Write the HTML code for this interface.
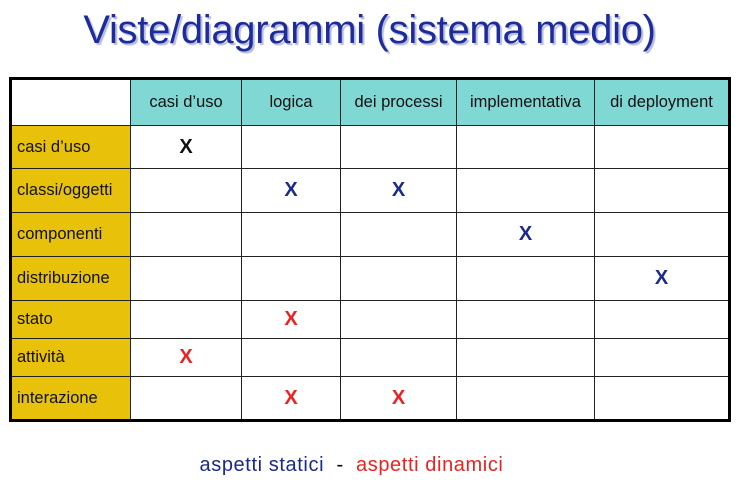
<!DOCTYPE html>
<html><head><meta charset="utf-8"><style>
body{margin:0;width:739px;height:488px;background:#fff;position:relative;font-family:"Liberation Sans",sans-serif;overflow:hidden}
.t{position:absolute;left:0;width:739px;top:8px;text-align:center;font-size:40px;color:#1c2c9c;text-shadow:2px 2px 1px #b8bcd8;letter-spacing:-0.3px}
table{position:absolute;left:9px;top:77px;border-collapse:collapse;border:3px solid #000}
td{border:1.5px solid #222;padding:0;font-size:16.5px;color:#111}
.h{background:#7fd8d4;text-align:center}
.r{background:#e8c10a;padding-left:5px}
.x{text-align:center;font-weight:bold;font-size:20px}
.b{color:#1a2a8c}.d{color:#ee2020}
.f{position:absolute;top:454px;left:-18px;width:739px;text-align:center;font-size:20px;letter-spacing:0.6px}
</style></head><body>
<div class="t">Viste/diagrammi (sistema medio)</div>
<table>
<colgroup><col style="width:120px"><col style="width:111px"><col style="width:99px"><col style="width:116px"><col style="width:138px"><col style="width:135px"></colgroup>
<tr style="height:47px"><td style="background:#fff"></td><td class="h">casi d’uso</td><td class="h">logica</td><td class="h">dei processi</td><td class="h">implementativa</td><td class="h">di deployment</td></tr>
<tr style="height:43px"><td class="r">casi d’uso</td><td class="x">X</td><td></td><td></td><td></td><td></td></tr>
<tr style="height:44px"><td class="r">classi/oggetti</td><td></td><td class="x b">X</td><td class="x b">X</td><td></td><td></td></tr>
<tr style="height:44px"><td class="r">componenti</td><td></td><td></td><td></td><td class="x b">X</td><td></td></tr>
<tr style="height:44px"><td class="r">distribuzione</td><td></td><td></td><td></td><td></td><td class="x b">X</td></tr>
<tr style="height:38px"><td class="r">stato</td><td></td><td class="x d">X</td><td></td><td></td><td></td></tr>
<tr style="height:38px"><td class="r">attività</td><td class="x d">X</td><td></td><td></td><td></td><td></td></tr>
<tr style="height:44px"><td class="r">interazione</td><td></td><td class="x d">X</td><td class="x d">X</td><td></td><td></td></tr>
</table>
<div class="f"><span class="b">aspetti statici</span>&nbsp;&nbsp;-&nbsp;&nbsp;<span class="d">aspetti dinamici</span></div>
</body></html>
